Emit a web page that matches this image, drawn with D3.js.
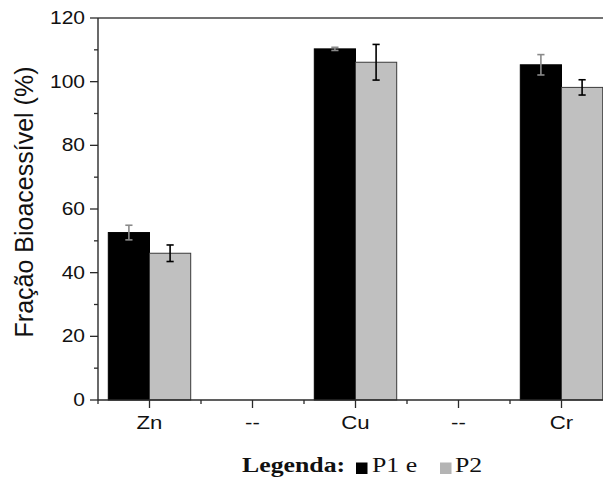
<!DOCTYPE html>
<html>
<head>
<meta charset="utf-8">
<script src="https://cdn.jsdelivr.net/npm/d3@7"></script>
<style>
  html, body { margin: 0; padding: 0; background: #fff; }
  svg { display: block; }
</style>
</head>
<body>
<svg id="chart" width="603" height="481"></svg>
<script>
// Bioaccessible fraction per metal, two sampling points (P1, P2)
const categories = ["Zn", "--", "Cu", "--", "Cr"];
const p1Values = [52.6, null, 110.3, null, 105.3];
const p1Errors = [2.3, null, 0.5, null, 3.2];
const p2Values = [46.1, null, 106.1, null, 98.2];
const p2Errors = [2.6, null, 5.6, null, 2.4];
const yTicks = [0, 20, 40, 60, 80, 100, 120];
const yMinorTicks = [10, 30, 50, 70, 90, 110];

const svg = d3.select("#chart");
const margin = { left: 98, top: 18, bottom: 400 };
const plotRight = 613; // frame continues past the right edge of the page

const x = d3.scaleBand()
  .domain(d3.range(categories.length))
  .range([margin.left, plotRight])
  .paddingInner(0).paddingOuter(0);
const bw = x.bandwidth();
const barW = bw * 0.4;

const y = d3.scaleLinear().domain([0, 120]).range([margin.bottom, margin.top]);

const axisColor = "#2a2a2a";
const hStretch = 1.2;

// frame top line
svg.append("line")
  .attr("x1", margin.left).attr("x2", plotRight)
  .attr("y1", y(120)).attr("y2", y(120))
  .attr("stroke", "#444").attr("stroke-width", 1.4);

// bars
const rows = categories.map((c, i) => ({
  i, c, p1: p1Values[i], e1: p1Errors[i], p2: p2Values[i], e2: p2Errors[i]
})).filter(d => d.p1 != null);

const center = i => x(i) + bw / 2;

svg.append("g").selectAll("rect.p1").data(rows).join("rect")
  .attr("x", d => center(d.i) - barW)
  .attr("y", d => y(d.p1))
  .attr("width", barW)
  .attr("height", d => y(0) - y(d.p1))
  .attr("fill", "#000").attr("stroke", "#000").attr("stroke-width", 1);

svg.append("g").selectAll("rect.p2").data(rows).join("rect")
  .attr("x", d => center(d.i))
  .attr("y", d => y(d.p2))
  .attr("width", barW)
  .attr("height", d => y(0) - y(d.p2))
  .attr("fill", "#c0c0c0").attr("stroke", "#3a3a3a").attr("stroke-width", 1);

// error bars
function errorBar(g, cx, v, e, color) {
  const cap = 3.6;
  g.append("line").attr("x1", cx).attr("x2", cx)
    .attr("y1", y(v + e)).attr("y2", y(v - e))
    .attr("stroke", color).attr("stroke-width", 1.6);
  [v + e, v - e].forEach(t => {
    g.append("line").attr("x1", cx - cap).attr("x2", cx + cap)
      .attr("y1", y(t)).attr("y2", y(t))
      .attr("stroke", color).attr("stroke-width", 1.6);
  });
}
const eg = svg.append("g");
rows.forEach(d => {
  errorBar(eg, center(d.i) - barW / 2, d.p1, d.e1, "#8a8a8a");
  errorBar(eg, center(d.i) + barW / 2, d.p2, d.e2, "#000");
});

// y axis
const yAxis = svg.append("g").attr("transform", `translate(${margin.left},0)`);
yAxis.append("line").attr("x1", 0).attr("x2", 0)
  .attr("y1", y(0)).attr("y2", y(120))
  .attr("stroke", axisColor).attr("stroke-width", 1.4);
yAxis.selectAll("line.maj").data(yTicks).join("line")
  .attr("x1", -8).attr("x2", 0).attr("y1", d => y(d)).attr("y2", d => y(d))
  .attr("stroke", axisColor).attr("stroke-width", 1.3);
yAxis.selectAll("line.min").data(yMinorTicks).join("line")
  .attr("x1", -4).attr("x2", 0).attr("y1", d => y(d)).attr("y2", d => y(d))
  .attr("stroke", axisColor).attr("stroke-width", 1.3);
yAxis.selectAll("text").data(yTicks).join("text")
  .attr("transform", d => `translate(-13,${y(d) + 6}) scale(${hStretch},1)`)
  .attr("text-anchor", "end")
  .attr("font-family", "Liberation Sans, Arial, sans-serif")
  .attr("font-size", 17.5)
  .attr("fill", "#111")
  .text(d => d);

// x axis
const xAxis = svg.append("g");
xAxis.append("line").attr("x1", margin.left).attr("x2", plotRight)
  .attr("y1", y(0)).attr("y2", y(0))
  .attr("stroke", axisColor).attr("stroke-width", 1.4);
xAxis.selectAll("line.maj").data(d3.range(categories.length)).join("line")
  .attr("x1", i => center(i)).attr("x2", i => center(i))
  .attr("y1", y(0)).attr("y2", y(0) + 8)
  .attr("stroke", axisColor).attr("stroke-width", 1.3);
xAxis.selectAll("line.min").data(d3.range(categories.length + 1)).join("line")
  .attr("x1", i => margin.left + i * bw).attr("x2", i => margin.left + i * bw)
  .attr("y1", y(0)).attr("y2", y(0) + 4)
  .attr("stroke", axisColor).attr("stroke-width", 1.3);
xAxis.selectAll("text").data(categories).join("text")
  .attr("transform", (d, i) => `translate(${center(i)},${y(0) + 28.5}) scale(${hStretch},1)`)
  .attr("text-anchor", "middle")
  .attr("font-family", "Liberation Sans, Arial, sans-serif")
  .attr("font-size", 18.5)
  .attr("fill", "#111")
  .text(d => d);

// y title
svg.append("text")
  .attr("transform", "translate(33,202) rotate(-90)")
  .attr("text-anchor", "middle")
  .attr("font-family", "Liberation Sans, Arial, sans-serif")
  .attr("font-size", 25)
  .attr("fill", "#111")
  .text("Fração Bioacessível (%)");

// legend
const legend = svg.append("g").attr("transform", "translate(242,472)");
const serif = "Liberation Serif, Times New Roman, serif";
legend.append("text")
  .attr("transform", `scale(${hStretch},1)`)
  .attr("font-family", serif).attr("font-size", 21.5).attr("font-weight", "bold")
  .attr("fill", "#111")
  .text("Legenda:");
legend.append("rect").attr("x", 114).attr("y", -9.5).attr("width", 11.5).attr("height", 11.5)
  .attr("fill", "#000");
legend.append("text")
  .attr("transform", `translate(130,0) scale(${hStretch},1)`)
  .attr("font-family", serif).attr("font-size", 21.5).attr("fill", "#111")
  .text("P1 e");
legend.append("rect").attr("x", 198).attr("y", -9.5).attr("width", 11.5).attr("height", 11.5)
  .attr("fill", "#b4b4b4");
legend.append("text")
  .attr("transform", `translate(213,0) scale(${hStretch},1)`)
  .attr("font-family", serif).attr("font-size", 21.5).attr("fill", "#111")
  .text("P2");
</script>
</body>
</html>
